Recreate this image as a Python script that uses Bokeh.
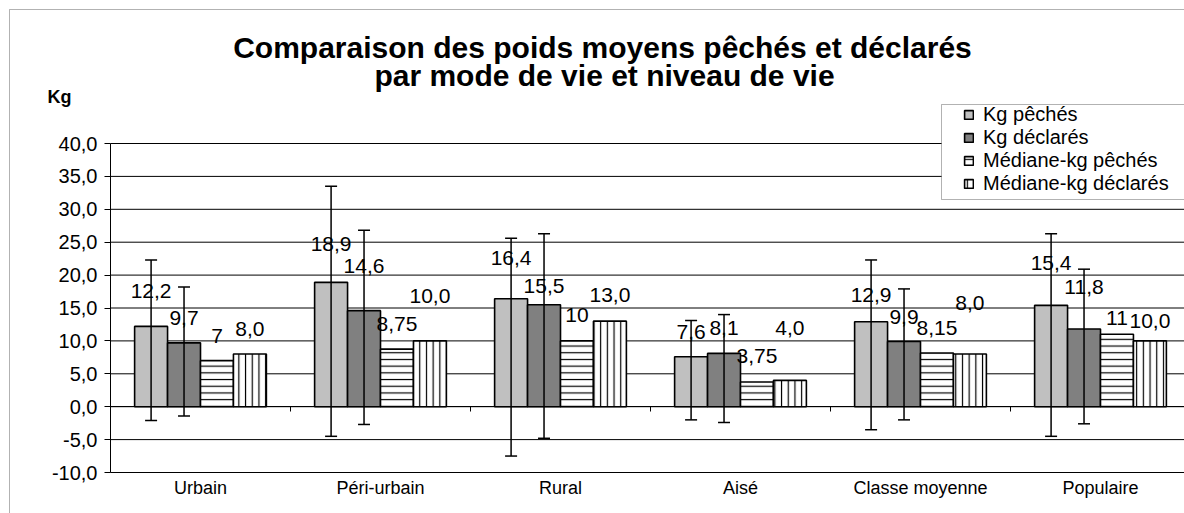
from bokeh.plotting import figure
from bokeh.models import (Range1d, FixedTicker, CustomJSTickFormatter, LinearAxis,
                          ColumnDataSource, Whisker, TeeHead, Label, Legend, LegendItem,
                          BoxAnnotation, Grid)
from bokeh.core.properties import value
from bokeh.embed import file_html
from bokeh.resources import INLINE

# ---------------- data ----------------
categories = ["Urbain", "Péri-urbain", "Rural", "Aisé", "Classe moyenne", "Populaire"]
kg_peches = [12.2, 18.9, 16.4, 7.6, 12.9, 15.4]
kg_declares = [9.7, 14.6, 15.5, 8.1, 9.9, 11.8]
med_peches = [7, 8.75, 10, 3.75, 8.15, 11]
med_declares = [8.0, 10.0, 13.0, 4.0, 8.0, 10.0]

peches_err_hi = [22.3, 33.5, 25.6, 13.1, 22.3, 26.3]
peches_err_lo = [-2.1, -4.5, -7.5, -2.0, -3.5, -4.5]
declares_err_hi = [18.2, 26.8, 26.3, 14.0, 17.9, 20.9]
declares_err_lo = [-1.4, -2.7, -4.8, -2.4, -2.0, -2.6]

series_names = ["Kg pêchés", "Kg déclarés", "Médiane-kg pêchés", "Médiane-kg déclarés"]
y_ticks = [-10, -5, 0, 5, 10, 15, 20, 25, 30, 35, 40]

# ---------------- layout / style ----------------
# label placement (pixels above bar top)
LABEL_DY = [
    [35, 38, 41, 25, 27, 42],
    [25, 45, 19, 25, 25, 42],
    [25, 25, 26, 26, 25, 16],
    [25, 45, 26, 52, 51, 20],
]

W, H = 1184, 513
PLOT_LEFT = 110          # px, left edge of plot area
CAT_PX = 180             # px per category
TOP_PX, BOT_PX = 143, 472  # px of y=40 and y=-10
YMIN, YMAX = -10, 40
PPU = (BOT_PX - TOP_PX) / (YMAX - YMIN)

FONT = "Liberation Sans"
N = len(categories)
BAR_W = 0.183
FILLS = ["#C0C0C0", "#808080", "white", "white"]
HATCH = [None, None, "horizontal_line", "vertical_line"]


def dx(px):  # canvas px -> data x
    return (px - PLOT_LEFT) / CAT_PX


def dy(py):  # canvas px -> data y
    return YMAX + (TOP_PX - py) / PPU


p = figure(width=W, height=H, output_backend="svg", toolbar_location=None,
           x_axis_location=None, y_axis_location=None,
           x_range=Range1d(dx(0), dx(W)), y_range=Range1d(dy(H), dy(0)),
           min_border=0, background_fill_color="white", border_fill_color="white")
p.outline_line_color = None
for r in list(p.center):
    if isinstance(r, Grid):
        r.visible = False

# grid lines (start at the value axis)
p.segment(x0=[0] * len(y_ticks), x1=[N] * len(y_ticks), y0=y_ticks, y1=y_ticks,
          line_color="black", line_width=1)

# value axis
yaxis = LinearAxis(fixed_location=0, bounds=(YMIN, YMAX),
                   ticker=FixedTicker(ticks=y_ticks),
                   formatter=CustomJSTickFormatter(code="return tick.toFixed(1).replace('.', ',');"),
                   major_label_text_font=FONT, major_label_text_font_size="20px",
                   major_label_text_color="black", major_tick_out=6, major_tick_in=0,
                   major_tick_line_color="black", minor_tick_line_color=None,
                   axis_line_color="black", major_label_standoff=7)
p.add_layout(yaxis, "left")

# category labels at the bottom of the plot area
xaxis = LinearAxis(fixed_location=YMIN, ticker=FixedTicker(ticks=[i + 0.5 for i in range(N)]),
                   formatter=CustomJSTickFormatter(args=dict(cats=categories),
                                                   code="return cats[Math.floor(tick)] || '';"),
                   major_label_text_font=FONT, major_label_text_font_size="18px",
                   major_label_text_color="black", major_tick_line_color=None,
                   minor_tick_line_color=None, axis_line_color=None,
                   major_tick_out=0, major_tick_in=0, major_label_standoff=5)
p.add_layout(xaxis, "below")

# category axis line crossing at zero, ticks between categories
zero_axis = LinearAxis(fixed_location=0, bounds=(0, N),
                       ticker=FixedTicker(ticks=list(range(1, N))),
                       formatter=CustomJSTickFormatter(code="return '';"),
                       major_tick_out=5, major_tick_in=0, major_tick_line_color="black",
                       minor_tick_line_color=None, axis_line_color="black",
                       major_label_text_font_size="0px")
p.add_layout(zero_axis, "below")

# bars + value labels
series = [kg_peches, kg_declares, med_peches, med_declares]
renderers = []
for k, vals in enumerate(series):
    xs = [i + 0.5 + (k - 1.5) * BAR_W for i in range(N)]
    if k == 2:
        texts = [f"{v:g}".replace(".", ",") for v in vals]
    else:
        texts = [f"{v:.1f}".replace(".", ",") for v in vals]
    src = ColumnDataSource(dict(x=xs, top=vals, text=texts,
                                dy=[-d for d in LABEL_DY[k]]))
    kw = dict(x="x", top="top", bottom=0, width=BAR_W, source=src,
              fill_color=FILLS[k], line_color="black", line_width=1.6)
    if HATCH[k]:
        kw.update(hatch_pattern=HATCH[k], hatch_color="black", hatch_scale=6.7,
                  hatch_weight=1.2)
    r = p.vbar(**kw)
    renderers.append(r)
    p.text(x="x", y="top", text="text", y_offset="dy", source=src,
           text_font=value(FONT), text_font_size=value("21px"), text_color="black",
           text_align="center", text_baseline="middle")

# error bars
for k, (hi, lo) in enumerate([(peches_err_hi, peches_err_lo),
                              (declares_err_hi, declares_err_lo)]):
    xs = [i + 0.5 + (k - 1.5) * BAR_W for i in range(N)]
    esrc = ColumnDataSource(dict(x=xs, hi=hi, lo=lo))
    w = Whisker(source=esrc, base="x", upper="hi", lower="lo", dimension="height",
                line_color="black", line_width=1.5, level="annotation",
                upper_head=TeeHead(size=12, line_color="black", line_width=1.5),
                lower_head=TeeHead(size=12, line_color="black", line_width=1.5))
    p.add_layout(w)

# legend box, then legend entries
p.add_layout(BoxAnnotation(left=941, right=W + 40, top=104, bottom=199,
                           left_units="canvas", right_units="canvas",
                           top_units="canvas", bottom_units="canvas",
                           fill_color="white", fill_alpha=1, line_color="black",
                           line_width=1, level="annotation"))
legend = Legend(items=[LegendItem(label=series_names[k], renderers=[renderers[k]])
                       for k in range(4)],
                location=(963, H - 195), orientation="vertical",
                label_text_font=FONT, label_text_font_size="20px",
                label_text_color="black", glyph_width=11, glyph_height=11,
                label_height=20, label_standoff=9, spacing=0, padding=0, margin=0,
                border_line_color=None, background_fill_alpha=0)
p.add_layout(legend)

# titles
p.add_layout(Label(x=dx(602), y=dy(47), text="Comparaison des poids moyens pêchés et déclarés",
                   text_align="center", text_baseline="alphabetic", text_font=FONT,
                   text_font_size="30px", text_font_style="bold", text_color="black"))
p.add_layout(Label(x=dx(604), y=dy(75), text="par mode de vie et niveau de vie",
                   text_align="center", text_baseline="alphabetic", text_font=FONT,
                   text_font_size="30px", text_font_style="bold", text_color="black"))
p.add_layout(Label(x=dx(47), y=dy(96), text="Kg", text_align="left",
                   text_baseline="alphabetic", text_font=FONT, text_font_size="18px",
                   text_font_style="bold", text_color="black"))

# outer chart border
p.add_layout(BoxAnnotation(left=9, right=W + 50, top=9, bottom=H + 50,
                           left_units="canvas", right_units="canvas",
                           top_units="canvas", bottom_units="canvas",
                           fill_alpha=0, line_color="black", line_width=1,
                           level="overlay"))

open("out.html", "w").write(file_html(p, INLINE))
